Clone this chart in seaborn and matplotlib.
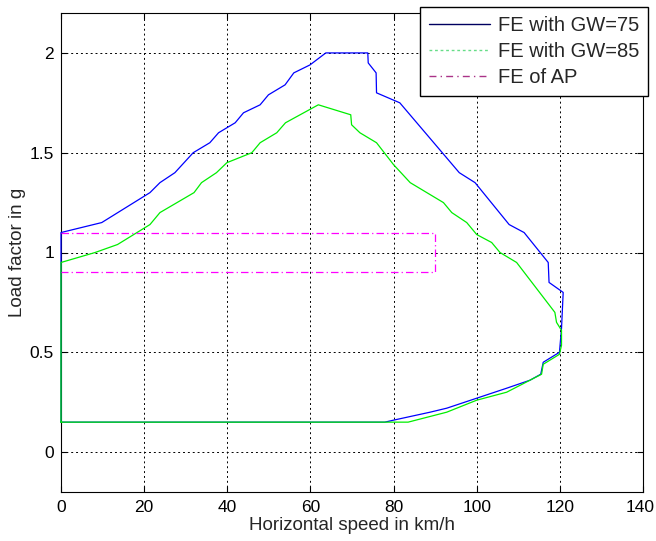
import numpy as np
import pandas as pd
import matplotlib
matplotlib.use("Agg")
import matplotlib.pyplot as plt
import matplotlib.transforms as mtransforms
from matplotlib.lines import Line2D
import seaborn as sns

# ---- data ----
gw75_x = [0, 0, 9.8, 21.4, 23.8, 27.4, 31.8, 35.8, 37.9, 41.9, 43.9, 47.9, 49.9, 53.9, 56.0, 59.9,
          63.7, 73.8, 73.9, 75.8, 75.9, 81.5, 95.8, 99.6, 107.8, 111.4, 117.2, 117.4, 120.8, 120.4,
          119.9, 116.0, 115.4, 112.8, 107.2, 100.0, 92.8, 88.8, 80.0, 77.9, 0]
gw75_y = [0.15, 1.10, 1.15, 1.30, 1.35, 1.40, 1.50, 1.55, 1.60, 1.65, 1.70, 1.74, 1.79, 1.84, 1.90, 1.94,
          2.00, 2.00, 1.95, 1.90, 1.80, 1.75, 1.40, 1.35, 1.14, 1.10, 0.95, 0.85, 0.80, 0.62,
          0.50, 0.45, 0.39, 0.36, 0.32, 0.27, 0.22, 0.20, 0.16, 0.15, 0.15]

gw85_x = [0, 0, 8.2, 13.6, 21.4, 23.8, 32.0, 33.8, 37.4, 39.9, 45.9, 47.9, 51.9, 54.0, 61.9, 69.7,
          69.9, 71.9, 75.9, 80.0, 84.0, 92.0, 94.0, 97.6, 100.0, 103.6, 105.6, 109.6, 118.8, 119.2,
          120.4, 120.4, 119.9, 116.0, 115.6, 112.8, 107.2, 100.0, 92.8, 83.5, 0]
gw85_y = [0.15, 0.95, 1.00, 1.04, 1.14, 1.20, 1.30, 1.35, 1.40, 1.45, 1.50, 1.55, 1.60, 1.65, 1.74, 1.69,
          1.64, 1.60, 1.55, 1.44, 1.35, 1.25, 1.20, 1.15, 1.09, 1.05, 1.00, 0.95, 0.70, 0.65,
          0.61, 0.535, 0.49, 0.44, 0.39, 0.36, 0.30, 0.26, 0.20, 0.15, 0.15]

ap_x = [0, 90, 90, 0]
ap_y = [1.1, 1.1, 0.9, 0.9]

labels = ["FE with GW=75", "FE with GW=85", "FE of AP"]
x_ticks = [0, 20, 40, 60, 80, 100, 120, 140]
y_ticks = [0, 0.5, 1, 1.5, 2]
y_tick_labels = ["0", "0.5", "1", "1.5", "2"]

# ---- style ----
sns.set_style("white")
plt.rcParams["font.family"] = ["Liberation Sans", "DejaVu Sans"]

fig = plt.figure(figsize=(6.56, 5.41), dpi=100)
ax = fig.add_axes([61 / 656, 1 - 492 / 541, (643 - 61) / 656, (492 - 13) / 541])

df75 = pd.DataFrame({"x": gw75_x, "y": gw75_y})
df85 = pd.DataFrame({"x": gw85_x, "y": gw85_y})
dfap = pd.DataFrame({"x": ap_x, "y": ap_y})

sns.lineplot(data=df75, x="x", y="y", sort=False, estimator=None, color="#0000ff",
             linewidth=0.9, ax=ax, zorder=3, clip_on=False)
sns.lineplot(data=df85, x="x", y="y", sort=False, estimator=None, color="#00ee00",
             linewidth=0.9, ax=ax, zorder=3, clip_on=False)
sns.lineplot(data=dfap, x="x", y="y", sort=False, estimator=None, color="#ff00ff",
             linewidth=0.9, linestyle=(0, (6, 2.5, 1, 2.5)), ax=ax, zorder=3)

ax.set_xlim(0, 140)
ax.set_ylim(-0.2, 2.2)
ax.set_xticks(x_ticks)
ax.set_yticks(y_ticks)
ax.set_yticklabels(y_tick_labels)
ax.tick_params(direction="in", length=4, width=0.8, labelsize=12.5, colors="black",
               top=True, right=True, bottom=True, left=True)
ax.tick_params(axis="y", pad=5)
ax.tick_params(axis="x", pad=6)
ax.grid(True, color="black", linestyle=(0, (2, 3)), linewidth=0.7)
for s in ax.spines.values():
    s.set_color("black")
    s.set_linewidth(0.8)
    s.set_zorder(2)

# nudge the last x tick label so it stays inside the figure
last = ax.get_xticklabels()[-1]
last.set_transform(last.get_transform() +
                   mtransforms.ScaledTranslation(-3 / 100, 0, fig.dpi_scale_trans))

ax.set_xlabel("Horizontal speed in km/h", fontsize=13.5, labelpad=1)
ax.set_ylabel("Load factor in g", fontsize=13.5, labelpad=3)

handles = [
    Line2D([], [], color="#000060", linewidth=1.0, linestyle="-"),
    Line2D([], [], color="#66dd88", linewidth=1.0, linestyle=(0, (2, 2))),
    Line2D([], [], color="#aa3388", linewidth=1.0, linestyle=(0, (5, 3, 1, 3))),
]
leg = fig.legend(handles, labels, loc="upper right", bbox_to_anchor=(648 / 656, 1 - 7 / 541),
                 fontsize=14.5, frameon=True, fancybox=False, framealpha=1,
                 edgecolor="black", borderpad=0.45, handlelength=3.0, labelspacing=0.35,
                 handletextpad=0.4, borderaxespad=0)
leg.get_frame().set_linewidth(1.0)

fig.savefig("out.png", dpi=100)
